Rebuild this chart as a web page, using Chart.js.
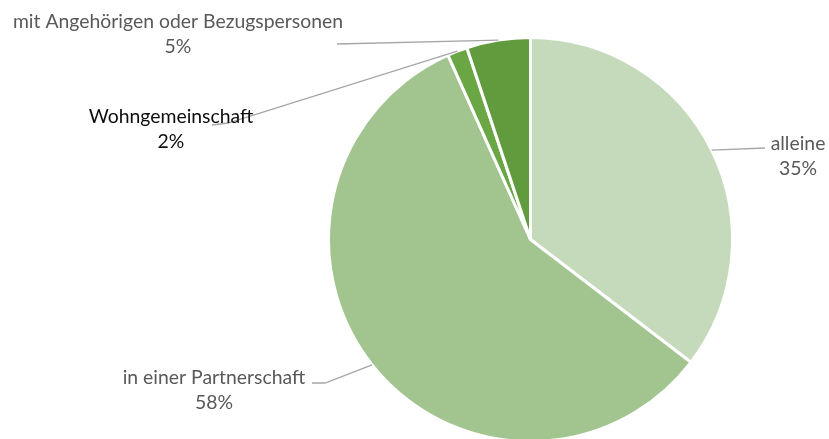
<!DOCTYPE html>
<html>
<head>
<meta charset="utf-8">
<script src="https://cdn.jsdelivr.net/npm/chart.js@4/dist/chart.umd.min.js"></script>
<style>
	body { margin: 0; background: #fff; overflow: hidden; }
	canvas { display: block; }
</style>
</head>
<body>
<canvas id="wohnform" width="829" height="445"></canvas>
<script>
// Wohnsituation
const wohnLabels = [
	"alleine",
	"in einer Partnerschaft",
	"Wohngemeinschaft",
	"mit Angehörigen oder Bezugspersonen",
];
const wohnAnteile = [35.4, 57.9, 1.6, 5.1];
const wohnFarben = ["#c5d9bb", "#a2c48f", "#6ba645", "#619b3d"];

// where each data label sits (centre of first text line) and how the leader line bends
const labelPos = [
	{ x: 798, y: 144, elbow: [765, 148], end: [765, 148], color: "#595959" },
	{ x: 214, y: 378, elbow: [325, 383], end: [312, 383], color: "#595959" },
	{ x: 171, y: 117, elbow: [228, 123], end: [212, 125], color: "#0d0d0d" },
	{ x: 178, y: 22, elbow: [337, 44], end: [337, 44], color: "#595959" },
];

const leaderLabels = {
	id: "leaderLabels",
	afterDatasetsDraw(chart) {
		const ctx = chart.ctx;
		const arcs = chart.getDatasetMeta(0).data;
		const total = wohnAnteile.reduce((a, b) => a + b, 0);
		ctx.save();
		arcs.forEach((arc, i) => {
			const p = labelPos[i];
			const mid = (arc.startAngle + arc.endAngle) / 2;
			const sx = arc.x + Math.cos(mid) * arc.outerRadius;
			const sy = arc.y + Math.sin(mid) * arc.outerRadius;
			ctx.strokeStyle = "#a6a6a6";
			ctx.lineWidth = 1.3;
			ctx.beginPath();
			ctx.moveTo(sx, sy);
			ctx.lineTo(p.elbow[0], p.elbow[1]);
			ctx.lineTo(p.end[0], p.end[1]);
			ctx.stroke();

			ctx.fillStyle = p.color;
			ctx.font = "19.4px Lato";
			ctx.textAlign = "center";
			ctx.textBaseline = "middle";
			ctx.fillText(wohnLabels[i], p.x, p.y);
			ctx.fillText(Math.round(wohnAnteile[i] / total * 100) + "%", p.x, p.y + 25);
		});
		ctx.restore();
	},
};

const wohnData = {
	labels: wohnLabels,
	datasets: [
		{
			data: wohnAnteile,
			backgroundColor: wohnFarben,
			borderColor: "#ffffff",
			borderWidth: 3,
		},
	],
};

const wohnConfig = {
	type: "pie",
	data: wohnData,
	options: {
		responsive: false,
		animation: false,
		layout: { padding: { left: 327, right: 95, top: 36, bottom: 2 } },
		plugins: {
			legend: { display: false },
			tooltip: { enabled: false },
		},
	},
	plugins: [leaderLabels],
};

const WohnChart = new Chart(document.getElementById("wohnform"), wohnConfig);
</script>
</body>
</html>
